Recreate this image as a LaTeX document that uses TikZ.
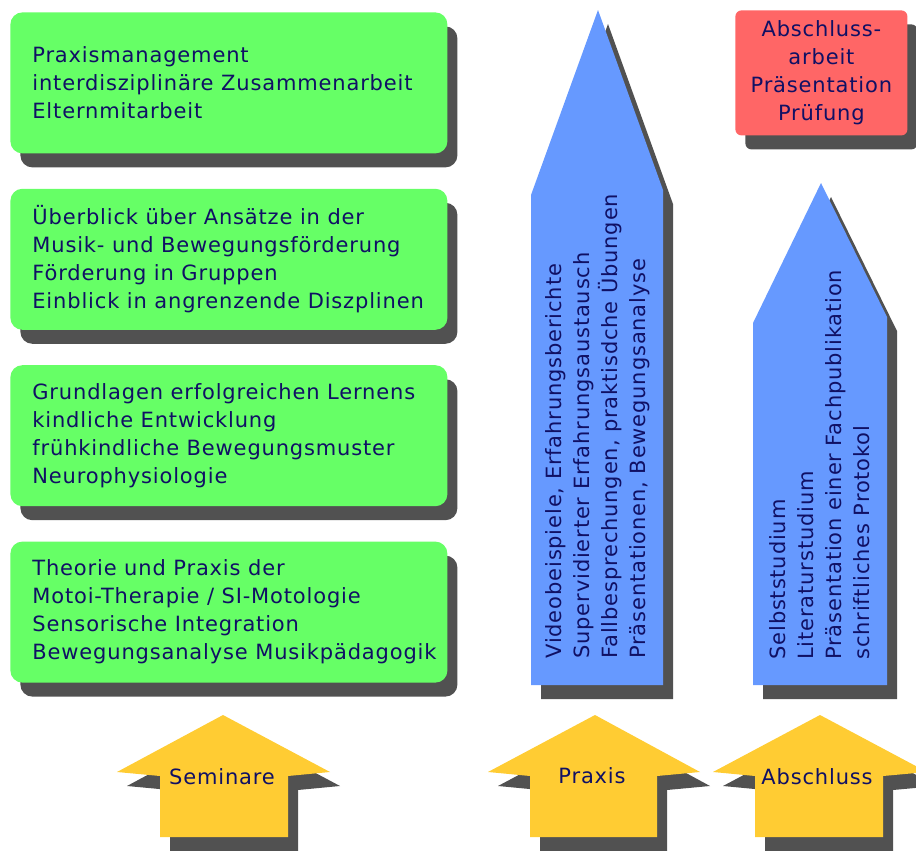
\documentclass[tikz,border=0pt]{standalone}
\usepackage{fontspec}
\setmainfont{DejaVu Sans}[LetterSpace=4]
\usetikzlibrary{positioning,shadows}
\definecolor{kursgruen}{RGB}{102,255,102}
\definecolor{kursblau}{RGB}{102,153,255}
\definecolor{kursrot}{RGB}{255,102,102}
\definecolor{kursgelb}{RGB}{255,204,51}
\definecolor{schrift}{RGB}{16,16,100}
\begin{document}
\begin{tikzpicture}[x=0.5pt, y=-0.5pt,
  every node/.style={text=schrift, font=\fontsize{10.5pt}{14pt}\selectfont},
  schatten/.style={drop shadow={shadow xshift=5pt, shadow yshift=-7pt, fill=black!85, opacity=0.8}},
  modul/.style={fill=kursgruen, rounded corners=6pt, schatten, minimum width=218.5pt, minimum height=70.5pt},
  modultext/.style={align=left, inner sep=0pt},
  saeule/.style={fill=kursblau, schatten},
  pfeil/.style={fill=kursgelb, schatten}]
% \tikzstyle{every node}=[draw=black, rounded corners]
\useasboundingbox (0,0) rectangle (916,851);
\clip (0,0) rectangle (916,851);
\node[modul, anchor=north west] (management) at (10,12) {};
\node[modul, below=17.3pt of management] (ansaetze) {};
\node[modul, below=17.3pt of ansaetze] (grundlagen) {};
\node[modul, below=17.3pt of grundlagen] (theorie) {};
\node[modultext, right=11pt of management.west] (managementtext) {Praxismanagement\\interdisziplinäre Zusammenarbeit\\Elternmitarbeit};
\node[modultext, right=11pt of ansaetze.west] (ansaetzetext) {Überblick über Ansätze in der\\Musik- und Bewegungsförderung\\Förderung in Gruppen\\Einblick in angrenzende Diszplinen};
\node[modultext, right=11pt of grundlagen.west] (grundlagentext) {Grundlagen erfolgreichen Lernens\\kindliche Entwicklung\\frühkindliche Bewegungsmuster\\Neurophysiologie};
\node[modultext, right=11pt of theorie.west] (theorietext) {Theorie und Praxis der\\Motoi-Therapie / SI-Motologie\\Sensorische Integration\\Bewegungsanalyse Musikpädagogik};
\node[fill=kursrot, rounded corners=3pt, schatten, minimum width=86pt, minimum height=62.5pt, align=center, anchor=north west] (pruefung) at (735,10) {Abschluss-\\arbeit\\Präsentation\\Prüfung};
\fill[saeule] (531,685) -- (531,195) -- (598,10) -- (663,190) -- (663,685) -- cycle;
\fill[saeule] (753,685) -- (753,323) -- (821,183) -- (887,317) -- (887,685) -- cycle;
\node[modultext, rotate=90, anchor=north west] (praxisinhalt) at (545,659) {Videobeispiele, Erfahrungsberichte\\Supervidierter Erfahrungsaustausch\\Fallbesprechungen, praktisdche Übungen\\Präsentationen, Bewegungsanalyse};
\node[modultext, rotate=90, anchor=north west] (abschlussinhalt) at (769,660) {Selbststudium\\Literaturstudium\\Präsentation einer Fachpublikation\\schriftliches Protokol};
\fill[pfeil] (223,715) -- (330,772) -- (288,776) -- (288,837) -- (160,837) -- (160,776) -- (117,772) -- cycle;
\fill[pfeil] (595,715) -- (700,772) -- (657,776) -- (657,837) -- (530,837) -- (530,776) -- (488,772) -- cycle;
\fill[pfeil] (820,715) -- (927,772) -- (883,776) -- (883,837) -- (755,837) -- (755,776) -- (713,772) -- cycle;
\node (seminare) at (222,777) {Seminare};
\node (praxis) at (592,776) {Praxis};
\node (abschluss) at (817,777) {Abschluss};
\end{tikzpicture}
\end{document}
